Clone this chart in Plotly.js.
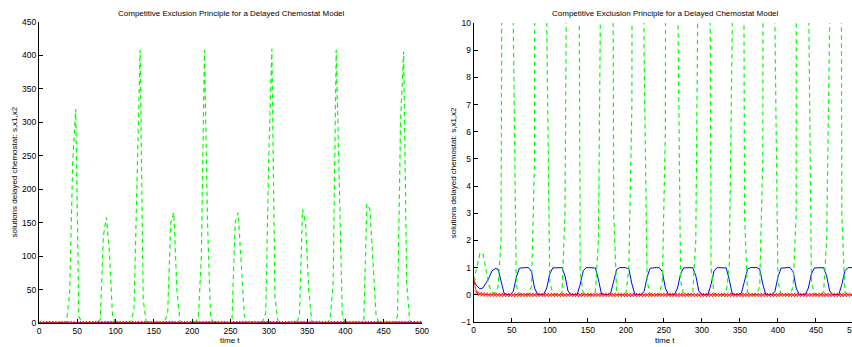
<!DOCTYPE html>
<html>
<head>
<meta charset="utf-8">
<script src="https://cdn.plot.ly/plotly-3.0.1.min.js"></script>
<style>
html,body{margin:0;padding:0;overflow:hidden;background:#fff;}
#chart{width:858px;height:347px;}
</style>
</head>
<body>
<div id="chart"></div>
<script>
// time samples
const timeT = [
  0,4,8,12,16,20,24,28,32,36,
  40,44,48,52,56,60,64,68,72,76,
  80,84,88,92,96,100,104,108,112,116,
  120,124,128,132,136,140,144,148,152,156,
  160,164,168,172,176,180,184,188,192,196,
  200,204,208,212,216,220,224,228,232,236,
  240,244,248,252,256,260,264,268,272,276,
  280,284,288,292,296,300,304,308,312,316,
  320,324,328,332,336,340,344,348,352,356,
  360,364,368,372,376,380,384,388,392,396,
  400,404,408,412,416,420,424,428,432,436,
  440,444,448,452,456,460,464,468,472,476,
  480,484,488,492,496,500
];
// substrate s (blue, solid)
const sVals = [
  0.5,0.33,0.22,0.25,0.42,0.62,0.88,0.96,0.95,0.5,
  0.05,0.01,0.01,0.12,0.65,0.98,1.0,1.0,1.0,0.85,
  0.25,0.01,0.01,0.01,0.25,0.77,0.99,1.0,1.0,1.0,
  0.7,0.14,0.01,0.01,0.01,0.38,0.88,1.0,1.0,1.0,
  0.99,0.55,0.03,0.01,0.01,0.06,0.52,0.94,1.0,1.0,
  1.0,0.95,0.4,0.01,0.01,0.01,0.12,0.65,0.98,1.0,
  1.0,1.0,0.85,0.25,0.01,0.01,0.01,0.25,0.77,0.99,
  1.0,1.0,1.0,0.7,0.14,0.01,0.01,0.01,0.38,0.88,
  1.0,1.0,1.0,0.99,0.55,0.03,0.01,0.01,0.06,0.52,
  0.94,1.0,1.0,1.0,0.95,0.4,0.01,0.01,0.01,0.12,
  0.65,0.98,1.0,1.0,1.0,0.85,0.25,0.01,0.01,0.01,
  0.25,0.77,0.99,1.0,1.0,1.0,0.7,0.14,0.01,0.01,
  0.01,0.38,0.88,1.0,1.0,1.0
];
// species x1 (green, dashed)
const x1Vals = [
  0.5,1.0,1.5,1.55,0.95,0.35,0.1,0.05,0.3,2,
  45,240,320,10,0.3,0.03,0.01,0.01,0.02,0.3,
  5,130,158,105,10,0.5,0.03,0.01,0.01,0.02,
  3,20,200,408,35,0.8,0.05,0.01,0.01,0.01,
  0.1,2,15,150,165,50,3,0.1,0.01,0.01,
  0.02,1,7,100,408,150,9,0.5,0.02,0.01,
  0.01,0.02,0.5,6,150,165,80,12,0.5,0.02,
  0.01,0.01,0.05,2,15,250,410,40,1,0.05,
  0.01,0.01,0.01,0.1,1,10,170,150,50,3,
  0.1,0.01,0.01,0.02,0.3,5,60,408,200,10,
  0.5,0.02,0.01,0.01,0.02,0.3,3,178,170,80,
  12,0.5,0.02,0.01,0.01,0.1,2,10,300,406,
  60,3,0.1,0.01,0.01,0.01
];
// species x2 (red, x markers)
const x2Vals = [
  0.5,0.08,0.03,0.015,0.01,0.006,0.004,0.002,0.001,0,
  0,0,0,0,0,0,0,0,0,0,
  0,0,0,0,0,0,0,0,0,0,
  0,0,0,0,0,0,0,0,0,0,
  0,0,0,0,0,0,0,0,0,0,
  0,0,0,0,0,0,0,0,0,0,
  0,0,0,0,0,0,0,0,0,0,
  0,0,0,0,0,0,0,0,0,0,
  0,0,0,0,0,0,0,0,0,0,
  0,0,0,0,0,0,0,0,0,0,
  0,0,0,0,0,0,0,0,0,0,
  0,0,0,0,0,0,0,0,0,0,
  0,0,0,0,0,0
];
const titleText = 'Competitive Exclusion Principle for a Delayed Chemostat Model';
const yTitleText = 'solutions delayed chemostat: s,x1,x2';
const xTitleText = 'time t';

const W = 858, H = 347;
function px(x){ return x / W; }
function py(y){ return 1 - y / H; }

function tracesFor(xa, ya){
  return [
    {x: timeT, y: sVals, xaxis: xa, yaxis: ya, type: 'scatter', mode: 'lines',
     line: {color: '#0000ff', width: 1}, hoverinfo: 'skip'},
    {x: timeT, y: x1Vals, xaxis: xa, yaxis: ya, type: 'scatter', mode: 'lines',
     line: {color: '#00ff00', width: 1.2, dash: '4.5px,3.5px'}, hoverinfo: 'skip'},
    {x: timeT, y: x2Vals, xaxis: xa, yaxis: ya, type: 'scatter', mode: 'lines+markers',
     line: {color: '#ff0000', width: 0.8},
     marker: {symbol: 'x-thin', size: 4, color: '#ff0000', line: {color: '#ff0000', width: 0.8}},
     hoverinfo: 'skip'}
  ];
}

const data = tracesFor('x', 'y').concat(tracesFor('x2', 'y2'));

const axBase = {
  showgrid: false, zeroline: false, showline: true, linecolor: '#000', linewidth: 1,
  ticks: 'inside', ticklen: 4, tickcolor: '#000', tickwidth: 1,
  tickfont: {family: 'Liberation Sans, Arial, sans-serif', size: 8.5, color: '#000'},
  ticklabeloverflow: 'allow',
  fixedrange: true
};

const layout = {
  width: W, height: H,
  margin: {l: 0, r: 0, t: 0, b: 0},
  paper_bgcolor: '#fff', plot_bgcolor: '#fff',
  showlegend: false,
  font: {family: 'Liberation Sans, Arial, sans-serif', size: 8, color: '#000'},
  xaxis: Object.assign({}, axBase, {domain: [px(39), px(422)], range: [0, 500], tick0: 0, dtick: 50, anchor: 'y'}),
  yaxis: Object.assign({}, axBase, {domain: [py(323), py(22)], range: [0, 450], tick0: 0, dtick: 50, anchor: 'x'}),
  xaxis2: Object.assign({}, axBase, {domain: [px(473.7), px(854)], range: [0, 500], tick0: 0, dtick: 50, anchor: 'y2'}),
  yaxis2: Object.assign({}, axBase, {domain: [py(322), py(23)], range: [-1, 10], tick0: 0, dtick: 1, anchor: 'x2'}),
  annotations: [
    {text: titleText, x: px(231), y: py(13.5), xref: 'paper', yref: 'paper', showarrow: false, xanchor: 'center', yanchor: 'middle', font: {size: 8}},
    {text: titleText, x: px(665.5), y: py(13.5), xref: 'paper', yref: 'paper', showarrow: false, xanchor: 'center', yanchor: 'middle', font: {size: 8}},
    {text: yTitleText, x: px(14), y: py(172.5), xref: 'paper', yref: 'paper', showarrow: false, xanchor: 'center', yanchor: 'middle', textangle: -90, font: {size: 8}},
    {text: yTitleText, x: px(453.7), y: py(172.5), xref: 'paper', yref: 'paper', showarrow: false, xanchor: 'center', yanchor: 'middle', textangle: -90, font: {size: 8}},
    {text: xTitleText, x: px(230), y: py(340), xref: 'paper', yref: 'paper', showarrow: false, xanchor: 'center', yanchor: 'middle', font: {size: 8}},
    {text: xTitleText, x: px(665), y: py(340), xref: 'paper', yref: 'paper', showarrow: false, xanchor: 'center', yanchor: 'middle', font: {size: 8}}
  ]
};

Plotly.newPlot('chart', data, layout, {staticPlot: true, displayModeBar: false});
</script>
</body>
</html>
